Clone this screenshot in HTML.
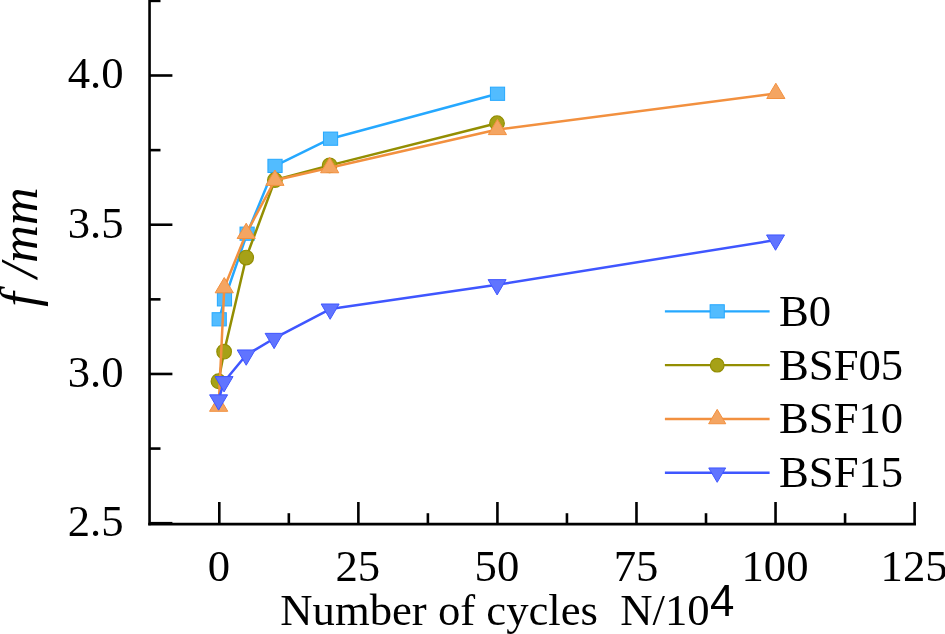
<!DOCTYPE html>
<html><head><meta charset="utf-8"><title>chart</title>
<style>
html,body{margin:0;padding:0;background:#fff;}
body{width:945px;height:634px;overflow:hidden;}
svg{display:block;will-change:transform;}
text{font-family:"Liberation Serif","Times New Roman",serif;fill:#000;font-kerning:none;}
.t{font-size:44.7px;}
</style></head><body>
<svg width="945" height="634" viewBox="0 0 945 634">

<g stroke="#000" stroke-width="2.6" fill="none" stroke-linecap="butt">
<line x1="149.55" y1="0" x2="149.55" y2="525.3"/>
<line x1="148.25" y1="524.15" x2="916" y2="524.15"/>
<line x1="149" y1="523.20" x2="172.4" y2="523.20"/>
<line x1="149" y1="448.58" x2="160.5" y2="448.58"/>
<line x1="149" y1="373.97" x2="172.4" y2="373.97"/>
<line x1="149" y1="299.35" x2="160.5" y2="299.35"/>
<line x1="149" y1="224.73" x2="172.4" y2="224.73"/>
<line x1="149" y1="150.12" x2="160.5" y2="150.12"/>
<line x1="149" y1="75.50" x2="172.4" y2="75.50"/>
<line x1="149" y1="0.88" x2="160.5" y2="0.88"/>
<line x1="219.30" y1="524.5" x2="219.30" y2="502.0"/>
<line x1="288.83" y1="524.5" x2="288.83" y2="513.2"/>
<line x1="358.36" y1="524.5" x2="358.36" y2="502.0"/>
<line x1="427.89" y1="524.5" x2="427.89" y2="513.2"/>
<line x1="497.42" y1="524.5" x2="497.42" y2="502.0"/>
<line x1="566.95" y1="524.5" x2="566.95" y2="513.2"/>
<line x1="636.48" y1="524.5" x2="636.48" y2="502.0"/>
<line x1="706.01" y1="524.5" x2="706.01" y2="513.2"/>
<line x1="775.54" y1="524.5" x2="775.54" y2="502.0"/>
<line x1="845.07" y1="524.5" x2="845.07" y2="513.2"/>
<line x1="914.60" y1="524.5" x2="914.60" y2="502.0"/>
</g>
<text class="t" x="123.6" y="536.10" text-anchor="end">2.5</text>
<text class="t" x="123.6" y="386.87" text-anchor="end">3.0</text>
<text class="t" x="123.6" y="237.63" text-anchor="end">3.5</text>
<text class="t" x="123.6" y="88.40" text-anchor="end">4.0</text>
<text class="t" x="218.80" y="581.45" text-anchor="middle">0</text>
<text class="t" x="357.86" y="581.45" text-anchor="middle">25</text>
<text class="t" x="496.92" y="581.45" text-anchor="middle">50</text>
<text class="t" x="635.98" y="581.45" text-anchor="middle">75</text>
<text class="t" x="775.04" y="581.45" text-anchor="middle">100</text>
<text class="t" x="914.10" y="581.45" text-anchor="middle">125</text>
<text class="t" x="280.3" y="625.1" xml:space="preserve">Number of cycles  N/10<tspan font-family="Liberation Sans,Arial,sans-serif" font-size="43.8" dx="0.3" dy="-9.1">4</tspan></text>
<text transform="translate(37.0,306.8) rotate(-90)" font-size="52.5" font-style="italic" xml:space="preserve">f<tspan dx="1.4"> /mm</tspan></text>
<polyline points="219.20,319.30 224.46,299.35 247.11,233.69 275.02,165.89 330.55,138.68 497.52,93.76" fill="none" stroke="#25a8ff" stroke-width="2.5" stroke-linejoin="round"/>
<rect x="212.10" y="312.70" width="14.20" height="13.20" fill="#52bcff" stroke="#25a8ff" stroke-width="1"/>
<rect x="217.36" y="292.75" width="14.20" height="13.20" fill="#52bcff" stroke="#25a8ff" stroke-width="1"/>
<rect x="240.01" y="227.09" width="14.20" height="13.20" fill="#52bcff" stroke="#25a8ff" stroke-width="1"/>
<rect x="267.92" y="159.29" width="14.20" height="13.20" fill="#52bcff" stroke="#25a8ff" stroke-width="1"/>
<rect x="323.45" y="132.08" width="14.20" height="13.20" fill="#52bcff" stroke="#25a8ff" stroke-width="1"/>
<rect x="490.42" y="87.16" width="14.20" height="13.20" fill="#52bcff" stroke="#25a8ff" stroke-width="1"/>
<polyline points="218.45,381.23 224.11,351.68 246.21,257.56 274.92,180.06 329.65,165.34 497.02,123.25" fill="none" stroke="#938e02" stroke-width="2.5" stroke-linejoin="round"/>
<circle cx="218.45" cy="381.23" r="7.30" fill="#a6a117" stroke="#938e02" stroke-width="1.2"/>
<circle cx="224.11" cy="351.68" r="7.30" fill="#a6a117" stroke="#938e02" stroke-width="1.2"/>
<circle cx="246.21" cy="257.56" r="7.30" fill="#a6a117" stroke="#938e02" stroke-width="1.2"/>
<circle cx="274.92" cy="180.06" r="7.30" fill="#a6a117" stroke="#938e02" stroke-width="1.2"/>
<circle cx="329.65" cy="165.34" r="7.30" fill="#a6a117" stroke="#938e02" stroke-width="1.2"/>
<circle cx="497.02" cy="123.25" r="7.30" fill="#a6a117" stroke="#938e02" stroke-width="1.2"/>
<polyline points="218.65,406.20 224.26,287.71 246.21,233.39 274.92,180.26 329.65,167.67 497.42,129.52 775.84,93.41" fill="none" stroke="#f2903f" stroke-width="2.5" stroke-linejoin="round"/>
<polygon points="218.65,396.00 227.75,411.30 209.55,411.30" fill="#f4a562" stroke="#f2903f" stroke-width="1" stroke-linejoin="miter"/>
<polygon points="224.26,277.51 233.36,292.81 215.16,292.81" fill="#f4a562" stroke="#f2903f" stroke-width="1" stroke-linejoin="miter"/>
<polygon points="246.21,223.19 255.31,238.49 237.11,238.49" fill="#f4a562" stroke="#f2903f" stroke-width="1" stroke-linejoin="miter"/>
<polygon points="274.92,170.06 284.02,185.36 265.82,185.36" fill="#f4a562" stroke="#f2903f" stroke-width="1" stroke-linejoin="miter"/>
<polygon points="329.65,157.47 338.75,172.77 320.55,172.77" fill="#f4a562" stroke="#f2903f" stroke-width="1" stroke-linejoin="miter"/>
<polygon points="497.42,119.32 506.52,134.62 488.32,134.62" fill="#f4a562" stroke="#f2903f" stroke-width="1" stroke-linejoin="miter"/>
<polygon points="775.84,83.21 784.94,98.51 766.74,98.51" fill="#f4a562" stroke="#f2903f" stroke-width="1" stroke-linejoin="miter"/>
<polyline points="218.60,399.93 224.06,381.72 246.21,355.06 274.12,338.45 330.15,309.10 497.12,284.73 775.54,240.06" fill="none" stroke="#3f56ff" stroke-width="2.5" stroke-linejoin="round"/>
<polygon points="218.60,410.13 227.60,394.83 209.60,394.83" fill="#6074ff" stroke="#3f56ff" stroke-width="1" stroke-linejoin="miter"/>
<polygon points="224.06,391.92 233.06,376.62 215.06,376.62" fill="#6074ff" stroke="#3f56ff" stroke-width="1" stroke-linejoin="miter"/>
<polygon points="246.21,365.26 255.21,349.96 237.21,349.96" fill="#6074ff" stroke="#3f56ff" stroke-width="1" stroke-linejoin="miter"/>
<polygon points="274.12,348.65 283.12,333.35 265.12,333.35" fill="#6074ff" stroke="#3f56ff" stroke-width="1" stroke-linejoin="miter"/>
<polygon points="330.15,319.30 339.15,304.00 321.15,304.00" fill="#6074ff" stroke="#3f56ff" stroke-width="1" stroke-linejoin="miter"/>
<polygon points="497.12,294.93 506.12,279.63 488.12,279.63" fill="#6074ff" stroke="#3f56ff" stroke-width="1" stroke-linejoin="miter"/>
<polygon points="775.54,250.26 784.54,234.96 766.54,234.96" fill="#6074ff" stroke="#3f56ff" stroke-width="1" stroke-linejoin="miter"/>
<line x1="664.9" y1="311.35" x2="769.6" y2="311.35" stroke="#25a8ff" stroke-width="2.4"/>
<rect x="710.10" y="304.75" width="14.20" height="13.20" fill="#52bcff" stroke="#25a8ff" stroke-width="1"/>
<text class="t" x="779" y="325.75">B0</text>
<line x1="664.9" y1="365.15" x2="769.6" y2="365.15" stroke="#938e02" stroke-width="2.4"/>
<circle cx="717.20" cy="365.15" r="6.86" fill="#a6a117" stroke="#938e02" stroke-width="1.2"/>
<text class="t" x="779" y="379.55">BSF05</text>
<line x1="664.9" y1="418.95" x2="769.6" y2="418.95" stroke="#f2903f" stroke-width="2.4"/>
<polygon points="717.20,409.36 725.75,423.74 708.65,423.74" fill="#f4a562" stroke="#f2903f" stroke-width="1" stroke-linejoin="miter"/>
<text class="t" x="779" y="433.35">BSF10</text>
<line x1="664.9" y1="472.75" x2="769.6" y2="472.75" stroke="#3f56ff" stroke-width="2.4"/>
<polygon points="717.20,482.34 725.66,467.96 708.74,467.96" fill="#6074ff" stroke="#3f56ff" stroke-width="1" stroke-linejoin="miter"/>
<text class="t" x="779" y="487.15">BSF15</text>
</svg></body></html>
